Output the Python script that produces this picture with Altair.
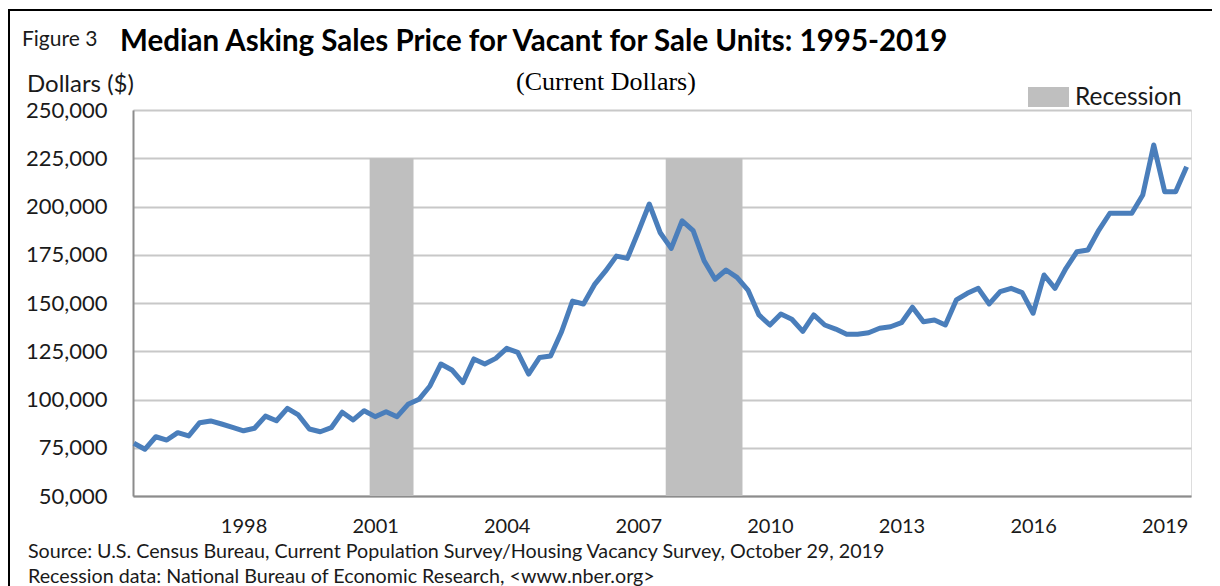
import altair as alt
import pandas as pd

# Quarterly observations, 1995Q3 .. 2019Q3 (97 quarters)
quarters = [f"{1995 + (i + 2) // 4}Q{(i + 2) % 4 + 1}" for i in range(97)]
price = [
    77300, 74200, 80700, 79000, 82800, 81100, 88000, 88900, 87300, 85600,
    83800, 85100, 91400, 89000, 95400, 92000, 84700, 83300, 85400, 93400,
    89400, 94200, 91100, 93700, 91100, 97500, 100100, 107000, 118400, 115300,
    108700, 121000, 118400, 121300, 126500, 124400, 113200, 121800, 122500, 135100,
    151000, 149500, 159500, 166500, 174300, 173100, 186900, 201300, 186400, 178300,
    192600, 187500, 171900, 162300, 167100, 163300, 156700, 143800, 138600, 144300,
    141600, 135300, 143800, 138600, 136500, 133800, 133800, 134600, 136900, 137700,
    139800, 147800, 140300, 141200, 138600, 151600, 155000, 157600, 149500, 155900,
    157600, 155400, 144700, 164500, 157600, 168000, 176600, 177500, 187800, 196500,
    196500, 196500, 206000, 231900, 207700, 207700, 220600,
]
rec_start = ["2001Q1", "2007Q4"]
rec_end = ["2001Q4", "2009Q2"]
rec_top = [225000, 225000]
year_ticks = [1998, 2001, 2004, 2007, 2010, 2013, 2016, 2019]
y_ticks = [50000, 75000, 100000, 125000, 150000, 175000, 200000, 225000, 250000]


def qnum(q):
    return int(q[:4]) + (int(q[-1]) - 1) / 4


df = pd.DataFrame({"quarter": quarters, "price": price})
df["t"] = df["quarter"].map(qnum)
rec = pd.DataFrame({"start": rec_start, "end": rec_end, "top": rec_top})
rec["t0"] = rec["start"].map(qnum) - 0.125
rec["t1"] = rec["end"].map(qnum) + 0.125
rec["base"] = 50000

W, H = 1058, 386
FONT = "Lato"
xscale = alt.Scale(domain=[1995.48, 2019.6], nice=False, zero=False)
yscale = alt.Scale(domain=[50000, 250000], nice=False, zero=False)

xaxis = alt.Axis(values=year_ticks, format="d", title=None, grid=False, ticks=False,
                 domainColor="#8C8C8C", domainWidth=2, labelFont=FONT, labelFontSize=20,
                 labelColor="#1a1a1a", labelPadding=20)
yaxis = alt.Axis(values=y_ticks, format=",.0f", title=None, grid=True, gridColor="#C8C8C8",
                 gridWidth=2, ticks=False, domainColor="#8C8C8C", domainWidth=2,
                 labelFont=FONT, labelFontSize=22, labelColor="#1a1a1a", labelPadding=26)

shade = alt.Chart(rec).mark_rect(color="#BFBFBF").encode(
    x=alt.X("t0:Q", scale=xscale, axis=xaxis),
    x2="t1:Q",
    y=alt.Y("top:Q", scale=yscale, axis=yaxis),
    y2="base:Q",
)

line = alt.Chart(df).mark_line(color="#4A7EBB", strokeWidth=5, strokeJoin="round").encode(
    x=alt.X("t:Q", scale=xscale, axis=xaxis),
    y=alt.Y("price:Q", scale=yscale, axis=yaxis),
)

one = alt.Data(values=[{"k": 1}])


def label(txt, x, y, size, align="left", weight="normal", font=FONT, color="#1a1a1a"):
    return alt.Chart(one).mark_text(
        text=txt, align=align, baseline="middle", fontSize=size, fontWeight=weight,
        font=font, color=color,
    ).encode(x=alt.value(x), y=alt.value(y))


frame = alt.Chart(one).mark_rect(fillOpacity=0, stroke="black", strokeWidth=2).encode(
    x=alt.value(-124), x2=alt.value(1081), y=alt.value(-100), y2=alt.value(480)
)

legend_box = alt.Chart(one).mark_rect(color="#BFBFBF").encode(
    x=alt.value(895), x2=alt.value(936), y=alt.value(-23), y2=alt.value(-3)
)

texts = [
    label("Figure 3", -111, -70, 21),
    label("Median Asking Sales Price for Vacant for Sale Units: 1995-2019", -13, -68, 29.5,
          weight="bold", color="black"),
    label("(Current Dollars)", 473, -28, 26, align="center", font="Liberation Serif",
          color="black"),
    label("Dollars ($)", -106, -25, 24),
    label("Recession", 942, -12, 24.5),
    label("Source: U.S. Census Bureau, Current Population Survey/Housing Vacancy Survey, October 29, 2019",
          -105, 442, 19.7),
    label("Recession data: National Bureau of Economic Research, <www.nber.org>", -105, 467, 19.7),
]

chart = alt.layer(shade, line, frame, legend_box, *texts).properties(
    width=W, height=H,
    padding={"left": 125, "top": 102, "right": 21, "bottom": 90},
    autosize=alt.AutoSizeParams(type="none"),
).configure_view(strokeWidth=0).configure(background="white")

chart.save("out.html", embed_options={"renderer": "svg", "actions": False})
